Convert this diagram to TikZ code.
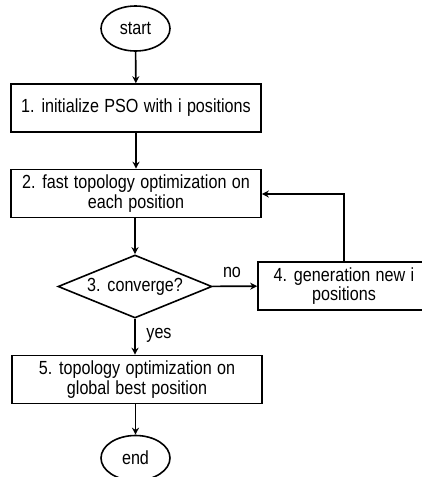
\documentclass[tikz,border=0pt]{standalone}
\usepackage{fontspec}
\setmainfont{Liberation Sans}[FakeStretch=0.85]
\usetikzlibrary{shapes.geometric,arrows.meta}
\newcommand\flowtxt{\fontsize{19}{19.5}\selectfont\spaceskip=5.4pt\relax}
\begin{document}
\begin{tikzpicture}[x=1pt,y=-1pt,
  every node/.style={font=\flowtxt},
  proc/.style={draw,line width=1.6pt,rectangle,minimum width=250pt,minimum height=48pt,align=center,inner sep=1pt},
  term/.style={draw,line width=1.6pt,ellipse,minimum width=69pt,minimum height=45pt,inner sep=0pt},
  dec/.style={draw,line width=1.6pt,diamond,minimum width=154pt,minimum height=63pt,aspect=2.4,inner sep=0pt},
  arr/.style={line width=1.6pt,-{Stealth[length=7pt,width=7pt]}},
  lbl/.style={}]
\useasboundingbox (0,0) rectangle (421,477);
\node[term] (start) at (135.5,28.5) {start};
\node[proc] (p1) at (136,108) {1. initialize PSO with i positions};
\node[proc] (p2) at (136,193.5) {2. fast topology optimization on\\each position};
\node[dec] (d3) at (135,286.5) {3. converge?};
\node[proc,minimum width=172pt] (p4) at (344,286) {4. generation new i\\positions};
\node[proc] (p5) at (137,379.5) {5. topology optimization on\\global best position};
\node[term] (end) at (135.5,458) {end};
\coordinate (c1) at (344,194);
\draw[arr] (start) -- (p1);
\draw[arr] (p1) -- (p2);
\draw[arr] (p2.south -| d3.north) -- (d3);
\draw[arr] (d3) -- (p4);
\node[lbl] (no) at (232,272) {no};
\draw[arr] (p4.north -| c1) -- (c1) -- (p2.east |- c1);
\draw[arr] (d3) -- (d3.south |- p5.north);
\node[lbl] (yes) at (159,335) {yes};
\draw[arr] (p5.south -| end.north) -- (end);
\end{tikzpicture}
\end{document}
